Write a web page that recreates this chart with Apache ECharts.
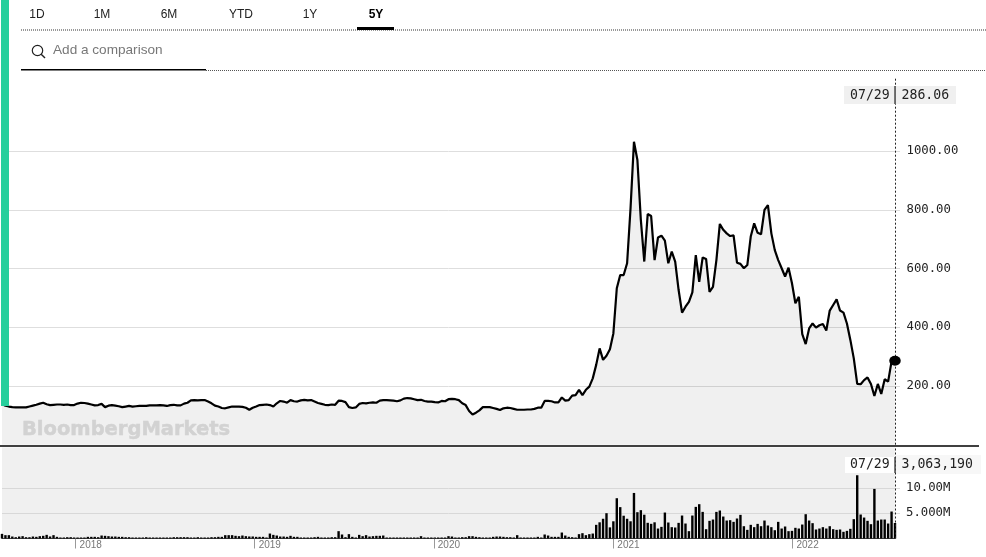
<!DOCTYPE html>
<html>
<head>
<meta charset="utf-8">
<style>html,body{margin:0;padding:0;background:#fff}#c{width:986px;height:557px}</style>
<script src="https://cdn.jsdelivr.net/npm/echarts@6/dist/echarts.min.js"></script>
</head>
<body>
<div id="c"></div>
<script>
const rangeTabs = ['1D','1M','6M','YTD','1Y','5Y'];
const yearLabels = [2018,2019,2020,2021,2022];
const priceTicks = [200,400,600,800,1000];
const volumeTicks = [5,10];
const firstWeek = Date.UTC(2017,7,4);
const lastDateLabel = '07/29';
const lastPriceLabel = '286.06';
const lastVolumeLabel = '3,063,190';

const prices = [
139,133,130,128,127,127,127,127,130,133,
136,140,143,138,135,136,137,137,136,137,
135,135,140,143,142,140,137,134,135,139,
128,133,135,133,131,128,130,132,130,131,
132,132,132,134,134,134,135,134,132,135,
136,134,134,140,143,151,152,151,152,152,
147,141,133,130,125,124,127,130,130,130,
129,126,119,126,130,135,136,137,135,130,
141,149,147,143,152,148,147,151,153,151,
152,147,142,139,136,135,137,136,150,149,
145,128,125,127,139,142,141,143,144,143,
150,152,152,151,150,148,151,157,159,158,
155,152,153,149,147,147,145,144,149,148,
155,156,155,152,141,135,115,103,109,117,
128,128,128,125,122,118,124,126,125,122,
119,119,119,120,120,122,126,126,149,149,
148,144,144,161,150,152,167,169,187,169,
187,198,226,272,328,289,303,325,379,533,
578,578,618,805,1032,970,766,624,786,779,
629,706,712,695,618,658,624,527,450,470,
487,519,646,555,638,633,521,538,629,752,
732,720,711,713,620,616,601,612,709,754,
722,717,800,816,720,663,629,601,573,603,
550,482,504,377,343,396,413,399,407,411,
389,457,476,495,457,450,413,357,294,207,
206,220,229,207,166,207,173,223,215,284,
286.06];

const volumesM = [
.92,.66,.66,.39,.26,.39,.46,.26,.26,.39,
.33,.46,.53,.72,.4,.66,.33,.2,.2,.26,
.26,.13,.13,.13,.13,.33,.33,.33,.26,.59,
.53,.46,.39,.39,.33,.33,.26,.26,.2,.13,
.13,.2,.26,.2,.2,.13,.13,.13,.13,.13,
.26,.26,.26,.26,.26,.2,.2,.26,.2,.2,
.13,.26,.26,.33,.33,.66,.66,.66,.53,.46,
.59,.46,.4,.4,.33,.33,.33,.2,.98,.72,
.59,.39,.39,.33,.53,.33,.33,.2,.2,.2,
.2,.26,.33,.2,.13,.2,.26,.26,1.45,.79,
.26,.86,.33,.2,.72,.46,.66,.39,.46,.53,
.53,.59,.2,.13,.13,.13,.13,.2,.13,.13,
.2,.13,.46,.13,.13,.13,.1,.1,.1,.1,
.46,.39,.2,.1,.26,.26,.46,.46,.33,.26,
.2,.2,.13,.33,.39,.39,.33,.26,.26,.2,
.66,.2,.13,.2,.2,.13,.33,.13,.79,.59,
.33,.33,.33,1.18,.59,.33,.26,.2,.86,1.05,
.66,.86,.98,2.7,3.2,3.9,5.0,2.2,3.4,7.96,
6.2,4.5,3.9,3.4,9.0,5.2,5.6,4.7,3.1,2.9,
3.2,1.97,2.30,5.13,3.16,2.24,2.17,3.09,4.54,2.96,
1.45,4.54,6.25,6.78,5.26,1.84,3.49,3.75,5.26,5.53,
4.34,3.55,3.62,3.29,3.95,4.67,2.43,1.71,2.70,2.24,
2.89,2.43,3.55,2.57,2.24,1.64,3.29,1.97,2.37,1.45,
1.51,2.11,1.97,2.76,4.80,3.55,3.03,1.78,1.97,2.24,
1.97,2.43,1.84,1.71,1.78,1.32,1.51,1.91,3.82,12.5,
4.74,4.14,3.49,2.83,9.80,3.55,3.75,3.75,2.96,5.33,
3.06319];

const WEEK = 7*24*3600*1000;
const dateOf = i => firstWeek + i*WEEK;
const priceData = prices.map((v,i)=>[dateOf(i),v]);
const volumeData = volumesM.map((v,i)=>[dateOf(i),v]);
const lastTime = dateOf(prices.length-1);
const yearStarts = yearLabels.map(y=>Date.UTC(y,0,1));

const MONO = '"DejaVu Sans Mono", monospace';
const SANS = '"Liberation Sans", Arial, sans-serif';
const tabX = [37,102,169,241,310,376];
const dotted = {stroke:'#333',lineWidth:1,lineDash:[1,1]};
const graphics = [
 {type:'rect',z:50,shape:{x:1,y:0,width:8,height:406},style:{fill:'#26cf9c'}},
 {type:'line',z:50,shape:{x1:21,y1:30,x2:986,y2:30},style:dotted},
 {type:'rect',z:51,shape:{x:357,y:27,width:37,height:3},style:{fill:'#000'}},
 {type:'line',z:50,shape:{x1:206,y1:70.5,x2:986,y2:70.5},style:{stroke:'#555',lineWidth:1,lineDash:[1,1]}},
 {type:'rect',z:50,shape:{x:21,y:69,width:185,height:1.5},style:{fill:'#000'}},
 {type:'circle',z:50,shape:{cx:37.5,cy:50.5,r:5.2},style:{fill:'none',stroke:'#222',lineWidth:1.2}},
 {type:'line',z:50,shape:{x1:41.2,y1:54.2,x2:45,y2:58},style:{stroke:'#222',lineWidth:1.4}},
 {type:'text',z:50,style:{x:53,y:50.5,text:'Add a comparison',fill:'#777',font:'13.6px '+SANS,verticalAlign:'middle'}},
 {type:'text',z:5,style:{x:22,y:430,text:'BloombergMarkets',fill:'#d2d2d2',font:'bold 19.5px "DejaVu Sans"',stroke:'#d2d2d2',lineWidth:0.5,verticalAlign:'middle'}},
 {type:'rect',z:50,shape:{x:0,y:445.3,width:979,height:1.4},style:{fill:'#000'}},
 {type:'rect',z:40,shape:{x:844,y:86,width:112,height:18},style:{fill:'#f0f0f0'}},
 {type:'rect',z:41,shape:{x:894.3,y:86,width:1.5,height:18},style:{fill:'#444'}},
 {type:'text',z:42,style:{x:850,y:95.5,text:lastDateLabel,fill:'#222',font:'13.2px '+MONO,verticalAlign:'middle'}},
 {type:'text',z:42,style:{x:901.5,y:95.5,text:lastPriceLabel,fill:'#222',font:'13.2px '+MONO,verticalAlign:'middle'}},
 {type:'rect',z:40,shape:{x:845,y:457,width:50,height:16},style:{fill:'#fff'}},
 {type:'rect',z:40,shape:{x:896,y:455,width:85,height:19},style:{fill:'#f7f7f7'}},
 {type:'rect',z:41,shape:{x:894.3,y:457,width:1.5,height:16},style:{fill:'#444'}},
 {type:'text',z:42,style:{x:850,y:465,text:lastDateLabel,fill:'#222',font:'13.2px '+MONO,verticalAlign:'middle'}},
 {type:'text',z:42,style:{x:901.5,y:465,text:lastVolumeLabel,fill:'#222',font:'13.2px '+MONO,verticalAlign:'middle'}}
];
rangeTabs.forEach((t,i)=>{
  graphics.push({type:'text',z:50,style:{x:tabX[i],y:14.5,text:t,fill:t==='5Y'?'#000':'#222',
    font:(t==='5Y'?'bold ':'')+'12px '+SANS,align:'center',verticalAlign:'middle'}});
});

const chart = echarts.init(document.getElementById('c'),null,{width:986,height:557});
const refLine = {silent:true,symbol:'none',animation:false,label:{show:false},
  lineStyle:{color:'#222',type:[2,2],width:1},data:[{xAxis:lastTime}]};
chart.setOption({
  animation:false,
  backgroundColor:'#fff',
  graphic:graphics,
  grid:[
    {left:2,right:91,top:77.8,bottom:112.3},
    {left:2,right:91,top:447.4,bottom:18.5,show:true,backgroundColor:'#f0f0f0',borderWidth:0}
  ],
  xAxis:[
    {type:'value',gridIndex:0,min:firstWeek,max:lastTime,show:false,splitLine:{show:false}},
    {type:'value',gridIndex:1,min:firstWeek,max:lastTime,
     axisLine:{show:true,lineStyle:{color:'#444',width:1}},
     axisTick:{show:true,customValues:yearStarts,length:10,lineStyle:{color:'#999',width:1}},
     splitLine:{show:false},
     axisLabel:{show:true,customValues:yearStarts,margin:2,align:'left',padding:[0,0,0,4],color:'#777',
       fontFamily:SANS,fontSize:10,hideOverlap:false,
       formatter:v=>String(new Date(v).getUTCFullYear())}}
  ],
  yAxis:[
    {type:'value',gridIndex:0,position:'right',min:0,max:1250,
     axisLine:{show:false},
     axisTick:{show:true,customValues:priceTicks,length:5,lineStyle:{color:'#ddd',width:1}},
     splitLine:{show:true,lineStyle:{color:'#dedede',width:1}},
     axisLabel:{customValues:priceTicks,margin:11.5,padding:[1.5,0,0,0],color:'#222',fontFamily:MONO,fontSize:12.3,
       formatter:v=>v.toFixed(2)}},
    {type:'value',gridIndex:1,position:'right',min:0,max:18,
     axisLine:{show:false},
     axisTick:{show:true,customValues:volumeTicks,length:5,lineStyle:{color:'#ddd',width:1}},
     splitLine:{show:true,lineStyle:{color:'#d8d8d8',width:1}},
     axisLabel:{customValues:volumeTicks,margin:11,padding:[1.5,0,0,0],color:'#222',fontFamily:MONO,fontSize:12.3,
       formatter:v=>v.toPrecision(4)+'M'}}
  ],
  series:[
    {name:'Price',type:'line',xAxisIndex:0,yAxisIndex:0,data:priceData,showSymbol:false,
     lineStyle:{color:'#000',width:2.2},areaStyle:{color:'rgba(0,0,0,0.06)',opacity:1,origin:'start'},
     itemStyle:{color:'#000'},markLine:refLine,z:3},
    {name:'Last',type:'scatter',xAxisIndex:0,yAxisIndex:0,data:priceData.slice(-1),symbol:'circle',
     symbolSize:[11.5,10],itemStyle:{color:'#000',opacity:1},clip:false,z:6},
    {name:'Volume',type:'bar',xAxisIndex:1,yAxisIndex:1,data:volumeData,barWidth:2.4,barMinHeight:1,
     itemStyle:{color:'#000'},markLine:refLine,z:3}
  ]
});
</script>
</body>
</html>
